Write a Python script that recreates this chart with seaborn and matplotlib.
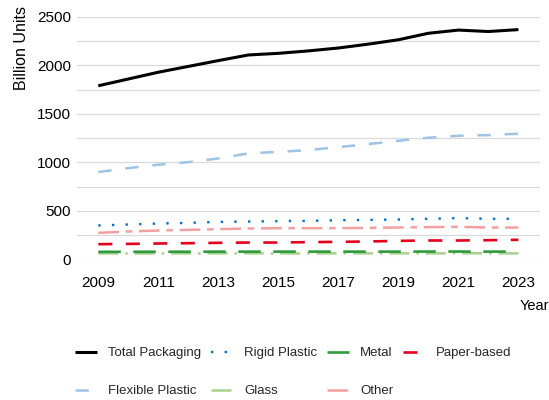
import matplotlib
matplotlib.use("Agg")
import matplotlib.pyplot as plt
from matplotlib.ticker import MultipleLocator
import numpy as np
import pandas as pd
import seaborn as sns

years = list(range(2009, 2024))
year_ticks = list(range(2009, 2024, 2))

total_packaging = [1790, 1860, 1930, 1990, 2050, 2108, 2125, 2150, 2180, 2220, 2265, 2332, 2365, 2350, 2370]
flexible_plastic = [900, 940, 975, 1002, 1040, 1092, 1108, 1126, 1157, 1188, 1222, 1254, 1274, 1281, 1295]
rigid_plastic = [348, 358, 368, 375, 385, 389, 393, 396, 402, 406, 410, 417, 424, 417, 417]
other = [272, 286, 296, 303, 310, 317, 320, 320, 320, 324, 327, 331, 334, 327, 327]
paper_based = [155, 158, 162, 165, 169, 172, 172, 176, 179, 183, 189, 193, 193, 196, 200]
metal = [76, 76, 77, 77, 78, 78, 78, 78, 78, 78, 78, 79, 79, 78, 79]
glass = [60, 59, 59, 60, 60, 60, 59, 59, 60, 60, 60, 60, 61, 60, 60]

series_names = ["Total Packaging", "Flexible Plastic", "Rigid Plastic", "Glass",
                "Metal", "Other", "Paper-based"]
series_values = [total_packaging, flexible_plastic, rigid_plastic, glass,
                 metal, other, paper_based]

sns.set_theme(style="white")
plt.rcParams["font.family"] = ["Liberation Sans", "DejaVu Sans"]
plt.rcParams["lines.scale_dashes"] = False

# name: (colour, line width in pt, dash pattern in pt or None for solid)
styles = {
    "Total Packaging": ("#000000", 2.2, None),
    "Flexible Plastic": ("#9DC3E6", 1.8, (9.6, 10.0)),
    "Rigid Plastic": ("#0070C0", 1.7, (1.7, 8.1)),
    "Glass": ("#A9D18E", 1.8, (14.4, 5.0, 1.8, 5.0)),
    "Metal": ("#2E9A3A", 1.9, (16.2, 9.0)),
    "Other": ("#F2A0A0", 1.8, (14.9, 4.8, 4.8, 4.8)),
    "Paper-based": ("#E4001C", 1.9, (10.1, 9.7)),
}

df = pd.DataFrame({"Year": years})
for name, vals in zip(series_names, series_values):
    df[name] = vals
long_df = df.melt(id_vars="Year", var_name="Series", value_name="Units")

fig = plt.figure(figsize=(5.49, 4.0), dpi=100)
ax = fig.add_axes([0.1397, 0.352, 0.8439, 0.6055])

# draw back-to-front so the dark series sit on top of their light neighbours
draw_order = ["Glass", "Metal", "Other", "Paper-based", "Rigid Plastic",
              "Flexible Plastic", "Total Packaging"]
handles = {}
for name in draw_order:
    colour, lw, dash = styles[name]
    sub = long_df[long_df["Series"] == name]
    sns.lineplot(data=sub, x="Year", y="Units", ax=ax, color=colour,
                 linewidth=lw, label=name, legend=False)
    line = ax.lines[-1]
    if dash is not None:
        line.set_linestyle((0, dash))
    line.set_dash_capstyle("butt")
    line.set_solid_capstyle("butt")
    line.set_solid_joinstyle("round")
    handles[name] = line

ax.set_xlim(2008.28, 2023.72)
ax.set_ylim(0, 2500)
ax.set_xticks(year_ticks)
ax.set_xticklabels([str(y) for y in year_ticks])
ax.yaxis.set_major_locator(MultipleLocator(500))
ax.yaxis.set_minor_locator(MultipleLocator(250))
ax.grid(which="both", axis="y", color="#D9D9D9", linewidth=0.9)
ax.grid(False, axis="x")
ax.set_axisbelow(True)
for sp in ax.spines.values():
    sp.set_visible(False)
ax.tick_params(axis="x", length=0, pad=12, labelsize=11, colors="#000000")
ax.tick_params(axis="y", which="both", length=0, pad=4, labelsize=11, colors="#000000")
ax.set_xlabel("")
ax.set_ylabel("")

fig.text(0.040, 0.88, "Billion Units", rotation=90, ha="center", va="center",
         fontsize=11.5, color="#000000")
fig.text(0.9727, 0.235, "Year", ha="center", va="center", fontsize=10.5,
         color="#000000")

fig.legend([handles[n] for n in series_names], series_names,
           loc="upper left", bbox_to_anchor=(0.1366, 0.132), ncol=4,
           frameon=False, fontsize=9.5, borderpad=0, borderaxespad=0,
           handlelength=1.67, handletextpad=0.83, columnspacing=0.75,
           labelspacing=1.95)

fig.savefig("out.png", dpi=100)
